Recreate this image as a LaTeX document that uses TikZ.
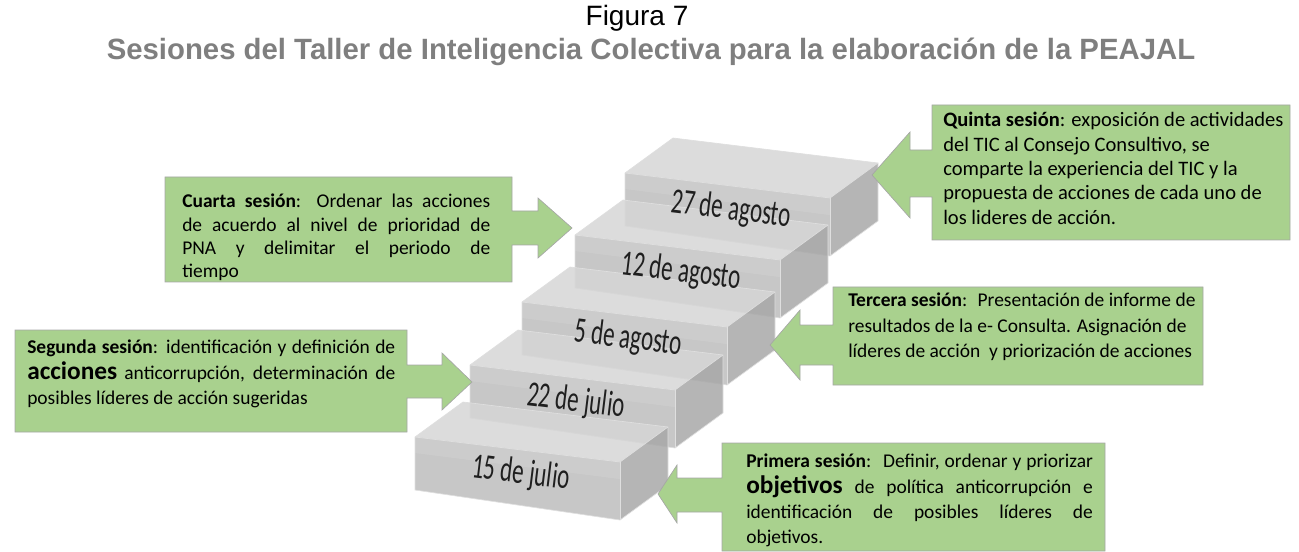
\documentclass[tikz,border=0pt]{standalone}
\usepackage{fontspec}
\setmainfont{Carlito}
\newfontfamily\arialfont{Liberation Sans}
\newfontfamily\fechafont[FakeStretch=0.64]{Carlito}
\usetikzlibrary{calc}

\definecolor{verde}{HTML}{A9D18E}
\definecolor{grisTitulo}{HTML}{7F7F7F}

\tikzset{
  callout/.style={fill=verde, draw=black!35, line width=0.5pt},
  texto/.style={anchor=north west, inner sep=0pt, align=justify,
    font=\fontsize{14.6}{19}\selectfont},
  textoizq/.style={texto, align=left},
  fecha/.style={inner sep=0pt, rotate=-7, text=black!88,
    font=\fechafont\fontsize{27}{27}\selectfont},
  caraArriba/.style={fill=gray!32, fill opacity=0.85},
  caraFrente/.style={fill=gray!52, fill opacity=0.85},
  caraBisel/.style={fill=gray!38, fill opacity=0.7},
  caraLado/.style={fill=gray!68, fill opacity=0.85},
  arista/.style={draw=white!75!gray, line width=0.5pt}
}

% one step of the stair: name, x, y (front top left corner)
\newcommand{\escalon}[3]{%
  \begin{scope}[shift={(#2,#3)}]
    \fill[caraArriba] (0,0) -- (48,-35) -- (253,-10) -- (205,25) -- cycle;
    \fill[caraFrente] (0,0) -- (205,25) -- (205,83) -- (0,53) -- cycle;
    \fill[caraBisel] (0,0) -- (205,25) -- (205,42) -- (0,16) -- cycle;
    \fill[caraLado] (205,25) -- (253,-10) -- (253,48) -- (205,83) -- cycle;
    \draw[arista] (0,0) -- (48,-35) -- (253,-10) -- (253,48) -- (205,83) -- (0,53) -- cycle;
    \draw[arista] (0,0) -- (205,25) -- (253,-10);
    \draw[arista] (205,25) -- (205,83);
    \coordinate (#1) at (106,37);
  \end{scope}
}

\begin{document}
\begin{tikzpicture}[x=0.75pt, y=-0.75pt]
  \useasboundingbox (0,0) rectangle (1299,552);

  % Title
  \node[font=\arialfont\fontsize{21}{21}\selectfont] (figura) at (637,18) {Figura 7};
  \node[font=\arialfont\bfseries\fontsize{22}{22}\selectfont, text=grisTitulo]
    (titulo) at (651,52) {Sesiones del Taller de Inteligencia Colectiva para la elaboración de la PEAJAL};

  % Stair, from the top step down
  \escalon{agosto27}{625}{173}
  \escalon{agosto12}{575}{235}
  \escalon{agosto5}{522}{302}
  \escalon{julio22}{470}{365}
  \escalon{julio15}{415}{437}

  % Dates on the steps
  \node[fecha] (f-agosto27) at (agosto27) {27 de agosto};
  \node[fecha] (f-agosto12) at (agosto12) {12 de agosto};
  \node[fecha] (f-agosto5)  at (agosto5)  {5 de agosto};
  \node[fecha] (f-julio22)  at (julio22)  {22 de julio};
  \node[fecha] (f-julio15)  at (julio15)  {15 de julio};

  % Callouts
  \draw[callout] (165,177) -- (512,177) -- (512,211) -- (538,211) -- (538,198) -- (572,228)
    -- (538,258) -- (538,245) -- (512,245) -- (512,282) -- (165,282) -- cycle;
  \draw[callout] (15,330) -- (407,330) -- (407,365) -- (442,365) -- (442,353) -- (472,382)
    -- (442,410) -- (442,398) -- (407,398) -- (407,432) -- (15,432) -- cycle;
  \draw[callout] (833,287) -- (1203,287) -- (1203,385) -- (833,385) -- (833,365) -- (800,365)
    -- (800,380) -- (770,345) -- (800,310) -- (800,325) -- (833,325) -- cycle;
  \draw[callout] (932,105) -- (1290,105) -- (1290,240) -- (932,240) -- (932,197) -- (910,197)
    -- (910,218) -- (872,175) -- (910,132) -- (910,150) -- (932,150) -- cycle;
  \draw[callout] (722,443) -- (1105,443) -- (1105,551) -- (722,551) -- (722,512) -- (677,512)
    -- (677,523) -- (658,494) -- (677,465) -- (677,478) -- (722,478) -- cycle;

  % Texts
  \node[texto, text width=231pt, font=\fontsize{14.6}{17.5}\selectfont] (cuarta) at (182,194)
    {\textbf{Cuarta sesión}: Ordenar las acciones\linebreak de acuerdo al nivel de prioridad de\linebreak
     PNA y delimitar el periodo de\linebreak tiempo};
  \node[texto, text width=276pt] (segunda) at (27,340)
    {\textbf{Segunda sesión}: identificación y definición de\linebreak
     {\fontsize{19}{19}\selectfont\bfseries acciones} anticorrupción, determinación de\linebreak
     posibles líderes de acción sugeridas};
  \node[textoizq] (tercera) at (848,293)
    {\textbf{Tercera sesión}:~ Presentación de informe de\\
     resultados de la e- Consulta. Asignación de\\
     líderes de acción~ y priorización de acciones};
  \node[textoizq, font=\fontsize{15.4}{18.3}\selectfont] (quinta) at (943,112)
    {\textbf{Quinta sesión}: exposición de actividades\\
     del TIC al Consejo Consultivo, se\\
     comparte la experiencia del TIC y la\\
     propuesta de acciones de cada uno de\\
     los lideres de acción.};
  \node[texto, text width=260pt] (primera) at (746,454)
    {\textbf{Primera sesión}:~ Definir, ordenar y priorizar\linebreak
     {\fontsize{19}{19}\selectfont\bfseries objetivos} de política anticorrupción e\linebreak
     identificación de posibles líderes de\linebreak objetivos.};
\end{tikzpicture}
\end{document}
